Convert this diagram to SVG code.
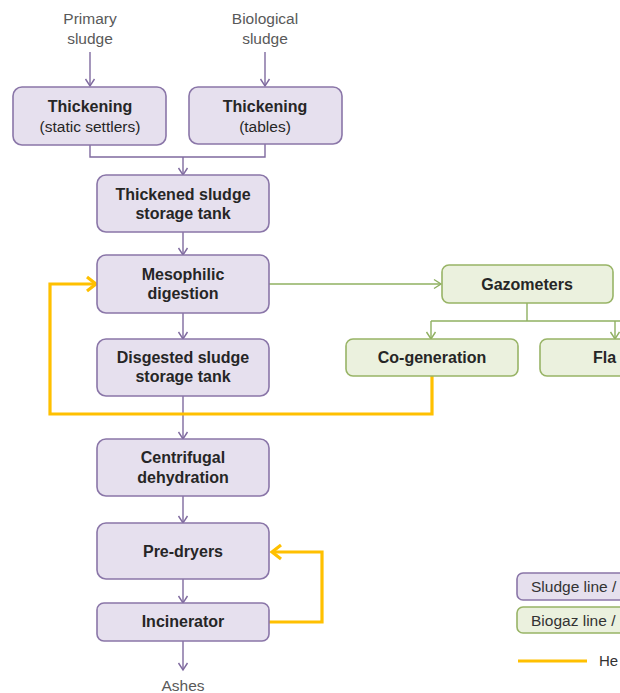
<svg xmlns="http://www.w3.org/2000/svg" width="620" height="693" viewBox="0 0 620 693">
<defs>
<style>
.t{font-family:"Liberation Sans",Arial,sans-serif;font-size:15.5px;fill:#262626;text-anchor:middle}
.b{font-weight:bold;font-size:16px}
.g{fill:#595959}
.sl{fill:#e6e0ee;stroke:#8a76a8;stroke-width:1.6}
.bg{fill:#ebf1de;stroke:#98b466;stroke-width:1.6}
.pc{fill:none;stroke:#7f6a9f;stroke-width:1.4}
.gc{fill:none;stroke:#8fb060;stroke-width:1.4}
.oc{fill:none;stroke:#ffc000;stroke-width:3.2}
</style>
<marker id="ap" markerUnits="userSpaceOnUse" markerWidth="14" markerHeight="14" refX="9" refY="6" orient="auto" viewBox="0 0 14 12">
<path d="M2,1.5 L9,6 L2,10.5" fill="none" stroke="#7f6a9f" stroke-width="1.4"/>
</marker>
<marker id="ag" markerUnits="userSpaceOnUse" markerWidth="14" markerHeight="14" refX="9" refY="6" orient="auto" viewBox="0 0 14 12">
<path d="M2,1.5 L9,6 L2,10.5" fill="none" stroke="#8fb060" stroke-width="1.4"/>
</marker>
<marker id="ao" markerUnits="userSpaceOnUse" markerWidth="20" markerHeight="20" refX="13" refY="9" orient="auto" viewBox="0 0 20 18">
<path d="M4,2 L13,9 L4,16" fill="none" stroke="#ffc000" stroke-width="3.2"/>
</marker>
</defs>
<rect width="620" height="693" fill="#ffffff"/>

<g id="connectors">
<line class="pc" x1="90" y1="52" x2="90" y2="86" marker-end="url(#ap)"/>
<line class="pc" x1="265" y1="52" x2="265" y2="86" marker-end="url(#ap)"/>
<polyline class="pc" points="90,145 90,157 265,157 265,144"/>
<line class="pc" x1="183" y1="157" x2="183" y2="175" marker-end="url(#ap)"/>
<line class="pc" x1="183" y1="232" x2="183" y2="255" marker-end="url(#ap)"/>
<line class="pc" x1="183" y1="313" x2="183" y2="339" marker-end="url(#ap)"/>
<line class="pc" x1="183" y1="396" x2="183" y2="439" marker-end="url(#ap)"/>
<line class="pc" x1="183" y1="496" x2="183" y2="523" marker-end="url(#ap)"/>
<line class="pc" x1="183" y1="579" x2="183" y2="603" marker-end="url(#ap)"/>
<line class="pc" x1="183" y1="641" x2="183" y2="670" marker-end="url(#ap)"/>
<line class="gc" x1="269" y1="284" x2="441" y2="284" marker-end="url(#ag)"/>
<polyline class="gc" points="527,303 527,321"/>
<line class="gc" x1="431" y1="321" x2="622" y2="321"/>
<line class="gc" x1="431" y1="321" x2="431" y2="339" marker-end="url(#ag)"/>
<line class="gc" x1="615" y1="321" x2="615" y2="339" marker-end="url(#ag)"/>
<polyline class="oc" points="432,376 432,414 50,414 50,284 96,284" marker-end="url(#ao)"/>
<polyline class="oc" points="269,622 322,622 322,552 272,552" marker-end="url(#ao)"/>
</g>

<g id="primary-sludge"><text class="t g" x="90" y="24">Primary</text><text class="t g" x="90" y="44">sludge</text></g>
<g id="biological-sludge"><text class="t g" x="265" y="24">Biological</text><text class="t g" x="265" y="44">sludge</text></g>

<g id="thickening-static"><rect class="sl" x="13" y="87" width="153" height="58" rx="9"/>
<text class="t b" x="90" y="112">Thickening</text><text class="t" x="90" y="132">(static settlers)</text></g>
<g id="thickening-tables"><rect class="sl" x="189" y="87" width="153" height="57" rx="9"/>
<text class="t b" x="265" y="112">Thickening</text><text class="t" x="265" y="132">(tables)</text></g>
<g id="thickened-storage"><rect class="sl" x="97" y="175" width="172" height="57" rx="9"/>
<text class="t b" x="183" y="200">Thickened sludge</text><text class="t b" x="183" y="219">storage tank</text></g>
<g id="mesophilic"><rect class="sl" x="97" y="255" width="172" height="58" rx="9"/>
<text class="t b" x="183" y="280">Mesophilic</text><text class="t b" x="183" y="299">digestion</text></g>
<g id="digested-storage"><rect class="sl" x="97" y="339" width="172" height="57" rx="9"/>
<text class="t b" x="183" y="363">Disgested sludge</text><text class="t b" x="183" y="382">storage tank</text></g>
<g id="centrifugal"><rect class="sl" x="97" y="439" width="172" height="57" rx="9"/>
<text class="t b" x="183" y="463">Centrifugal</text><text class="t b" x="183" y="483">dehydration</text></g>
<g id="pre-dryers"><rect class="sl" x="97" y="523" width="172" height="56" rx="9"/>
<text class="t b" x="183" y="557">Pre-dryers</text></g>
<g id="incinerator"><rect class="sl" x="97" y="603" width="172" height="38" rx="7"/>
<text class="t b" x="183" y="627">Incinerator</text></g>
<g id="ashes"><text class="t g" x="183" y="691">Ashes</text></g>

<g id="gazometers"><rect class="bg" x="442" y="265" width="171" height="38" rx="7"/>
<text class="t b" x="527" y="290">Gazometers</text></g>
<g id="co-generation"><rect class="bg" x="346" y="339" width="172" height="37" rx="7"/>
<text class="t b" x="432" y="363">Co-generation</text></g>
<g id="flares"><rect class="bg" x="540" y="339" width="100" height="37" rx="7"/>
<text class="t b" x="593" y="363" style="text-anchor:start">Fla</text></g>

<g id="legend">
<rect class="sl" x="517" y="573" width="120" height="27" rx="6"/>
<text class="t" x="531" y="592" style="text-anchor:start;fill:#333">Sludge line /</text>
<rect class="bg" x="517" y="607" width="120" height="26" rx="6"/>
<text class="t" x="531" y="626" style="text-anchor:start;fill:#333">Biogaz line /</text>
<line class="oc" x1="518" y1="661" x2="587" y2="661" stroke-width="3.6"/>
<text class="t" x="599" y="666" style="text-anchor:start;fill:#333;font-size:15px">He</text>
</g>
</svg>
